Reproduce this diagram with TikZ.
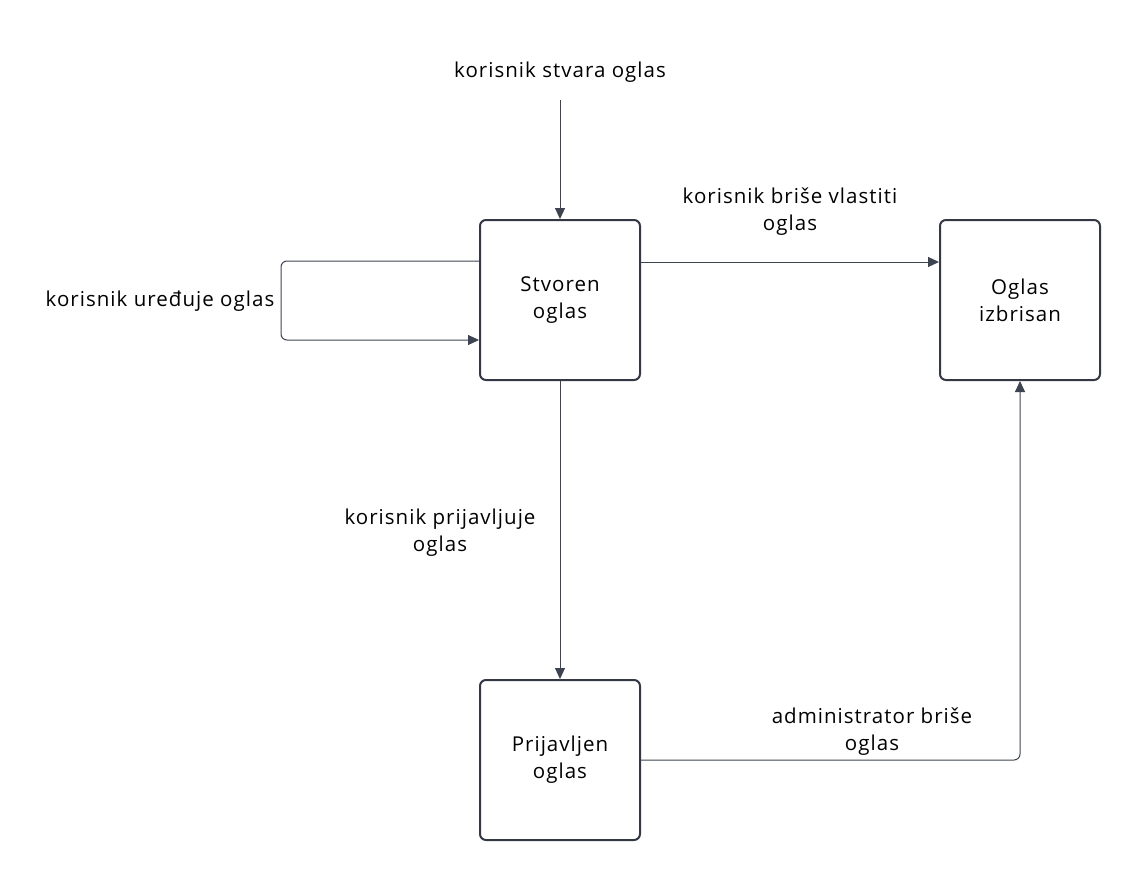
\documentclass[tikz,border=0pt]{standalone}
\usepackage{fontspec}
\setmainfont{Open Sans}[LetterSpace=5]
\usetikzlibrary{arrows.meta}
\definecolor{boxc}{HTML}{333844}
\definecolor{linec}{HTML}{3D4350}
\tikzset{
  state/.style={draw=boxc, line width=2pt, rounded corners=6pt, minimum width=160pt, minimum height=160pt, align=center, font=\fontsize{20.5}{27}\selectfont, inner sep=0pt},
  conn/.style={draw=linec, line width=1pt, -{Triangle[length=11pt,width=10pt]}, rounded corners=6pt},
  lbl/.style={align=center, font=\fontsize{20.5}{27}\selectfont, inner sep=0pt}
}
\begin{document}
\begin{tikzpicture}[x=1pt,y=-1pt]
\useasboundingbox (0,0) rectangle (1140,880);
\node[state] (s) at (560,300) {Stvoren\\oglas};
\node[state] (i) at (1020,300) {Oglas\\izbrisan};
\node[state] (p) at (560,760) {Prijavljen\\oglas};
\coordinate (start) at (560,100);
\node[lbl] (l0) at (560,72) {korisnik stvara oglas};
\node[lbl] (l1) at (790,212) {korisnik briše vlastiti\\oglas};
\node[lbl] (l2) at (160,301) {korisnik uređuje oglas};
\node[lbl] (l3) at (440,533) {korisnik prijavljuje\\oglas};
\node[lbl] (l4) at (872,732) {administrator briše\\oglas};
\draw[conn] (start) -- (s.north);
\draw[conn] (s.east |- 0,262) -- (i.west |- 0,262);
\draw[conn] (s.west |- 0,261) -- (281,261) -- (281,340) -- (s.west |- 0,340);
\draw[conn] (s.south) -- (p.north);
\draw[conn] (p.east) -- (1020,760) -- (i.south);
\end{tikzpicture}
\end{document}
